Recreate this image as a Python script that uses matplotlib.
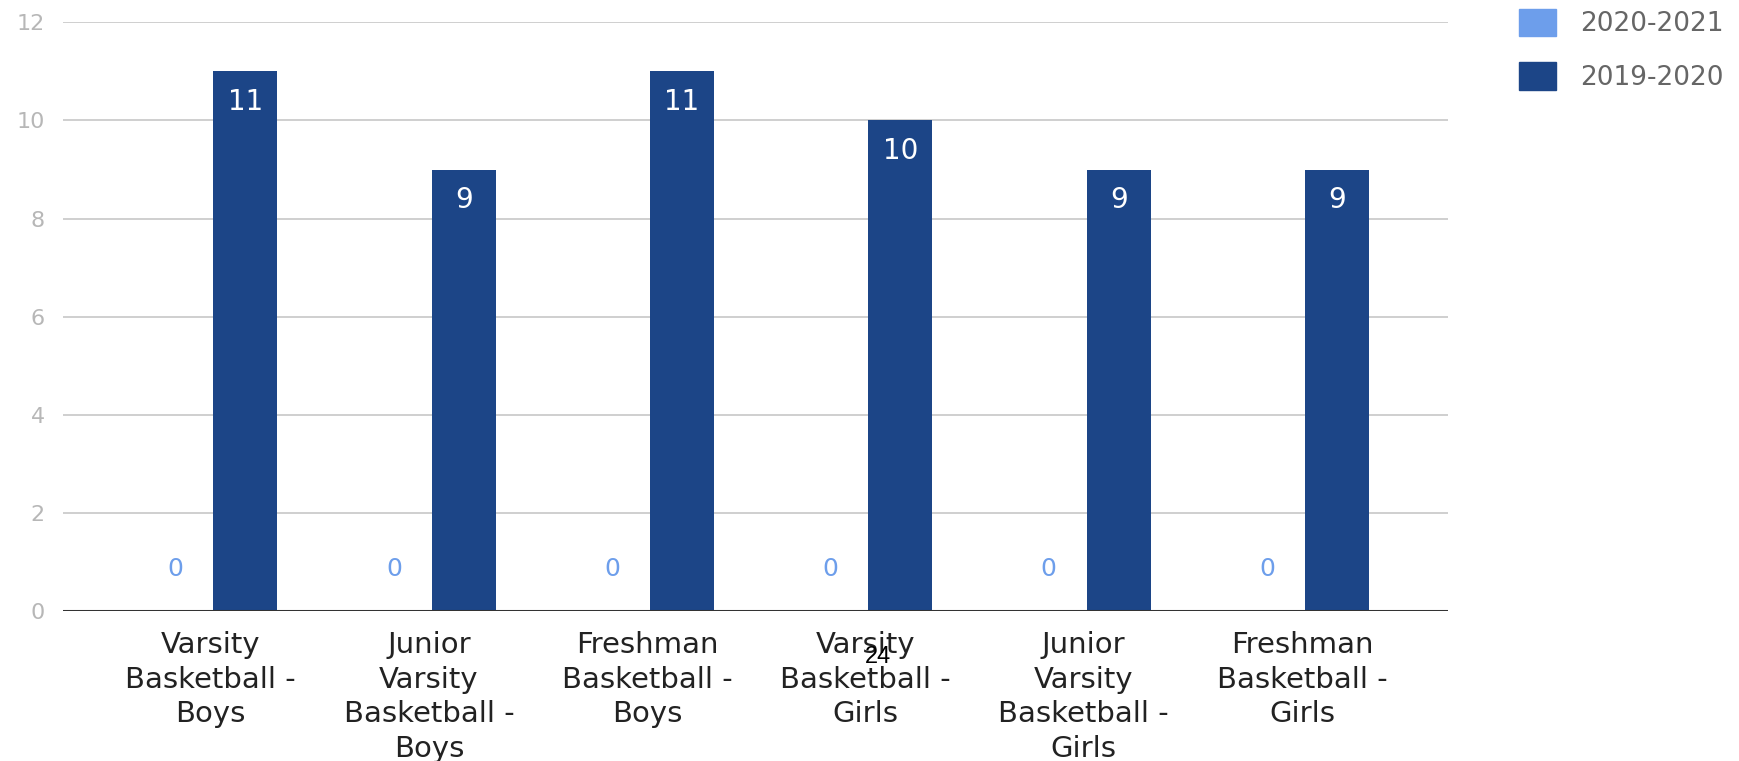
import matplotlib
matplotlib.use("Agg")
import numpy as np
import matplotlib.pyplot as plt
from matplotlib.patches import Patch

# data
categories = ["Varsity Basketball - Boys", "Junior Varsity Basketball - Boys",
              "Freshman Basketball - Boys", "Varsity Basketball - Girls",
              "Junior Varsity Basketball - Girls", "Freshman Basketball - Girls"]
tick_labels = ["Varsity\nBasketball -\nBoys", "Junior\nVarsity\nBasketball -\nBoys",
               "Freshman\nBasketball -\nBoys", "Varsity\nBasketball -\nGirls",
               "Junior\nVarsity\nBasketball -\nGirls", "Freshman\nBasketball -\nGirls"]
series_names = ["2020-2021", "2019-2020"]
season_2020_21 = [0, 0, 0, 0, 0, 0]
season_2019_20 = [11, 9, 11, 10, 9, 9]
y_ticks = [0, 2, 4, 6, 8, 10, 12]

light = "#6d9eeb"
dark = "#1c4587"

plt.rcParams['font.family'] = ['DejaVu Sans']

fig = plt.figure(figsize=(17.39, 7.61), dpi=100)
ax = fig.add_axes([0.0362, 0.1965, 0.7965, 0.7742])

x = np.arange(len(categories))
w = 0.293
off = 0.16

b1 = ax.bar(x - off, season_2020_21, w, color=light, label=series_names[0])
b2 = ax.bar(x + off, season_2019_20, w, color=dark, label=series_names[1], zorder=3)

ax.bar_label(b1, padding=22, color=light, fontsize=18)
ax.bar_label(b2, padding=-32, color="white", fontsize=20, zorder=4)

ax.set_xlim(-0.676, 5.669)
ax.set_ylim(0, 12)
ax.set_yticks(y_ticks)
ax.yaxis.grid(True, color="#cccccc", linewidth=1.3)
ax.set_axisbelow(True)
ax.axhline(0, color="#333333", linewidth=2.2, zorder=5)

for s in ax.spines.values():
    s.set_visible(False)

ax.tick_params(axis="y", length=0, pad=13, labelsize=16, labelcolor="#b7b7b7")
ax.tick_params(axis="x", length=0, pad=14)
ax.set_xticks(x)
ax.set_xticklabels(tick_labels, fontsize=21, color="#222222", linespacing=1.3)

handles = [Patch(color=light), Patch(color=dark)]
fig.legend(handles, series_names, loc="upper left", bbox_to_anchor=(0.86, 1.02),
           frameon=False, fontsize=19, labelcolor="#666666",
           handlelength=1.4, handleheight=1.25, handletextpad=0.9, labelspacing=0.95)

# page number left over from the slide
fig.text(878 / 1739, 1 - 657 / 761, "24", fontsize=17, color="black",
         family="Liberation Sans", ha="center", va="center")

fig.savefig("out.png", dpi=100)
